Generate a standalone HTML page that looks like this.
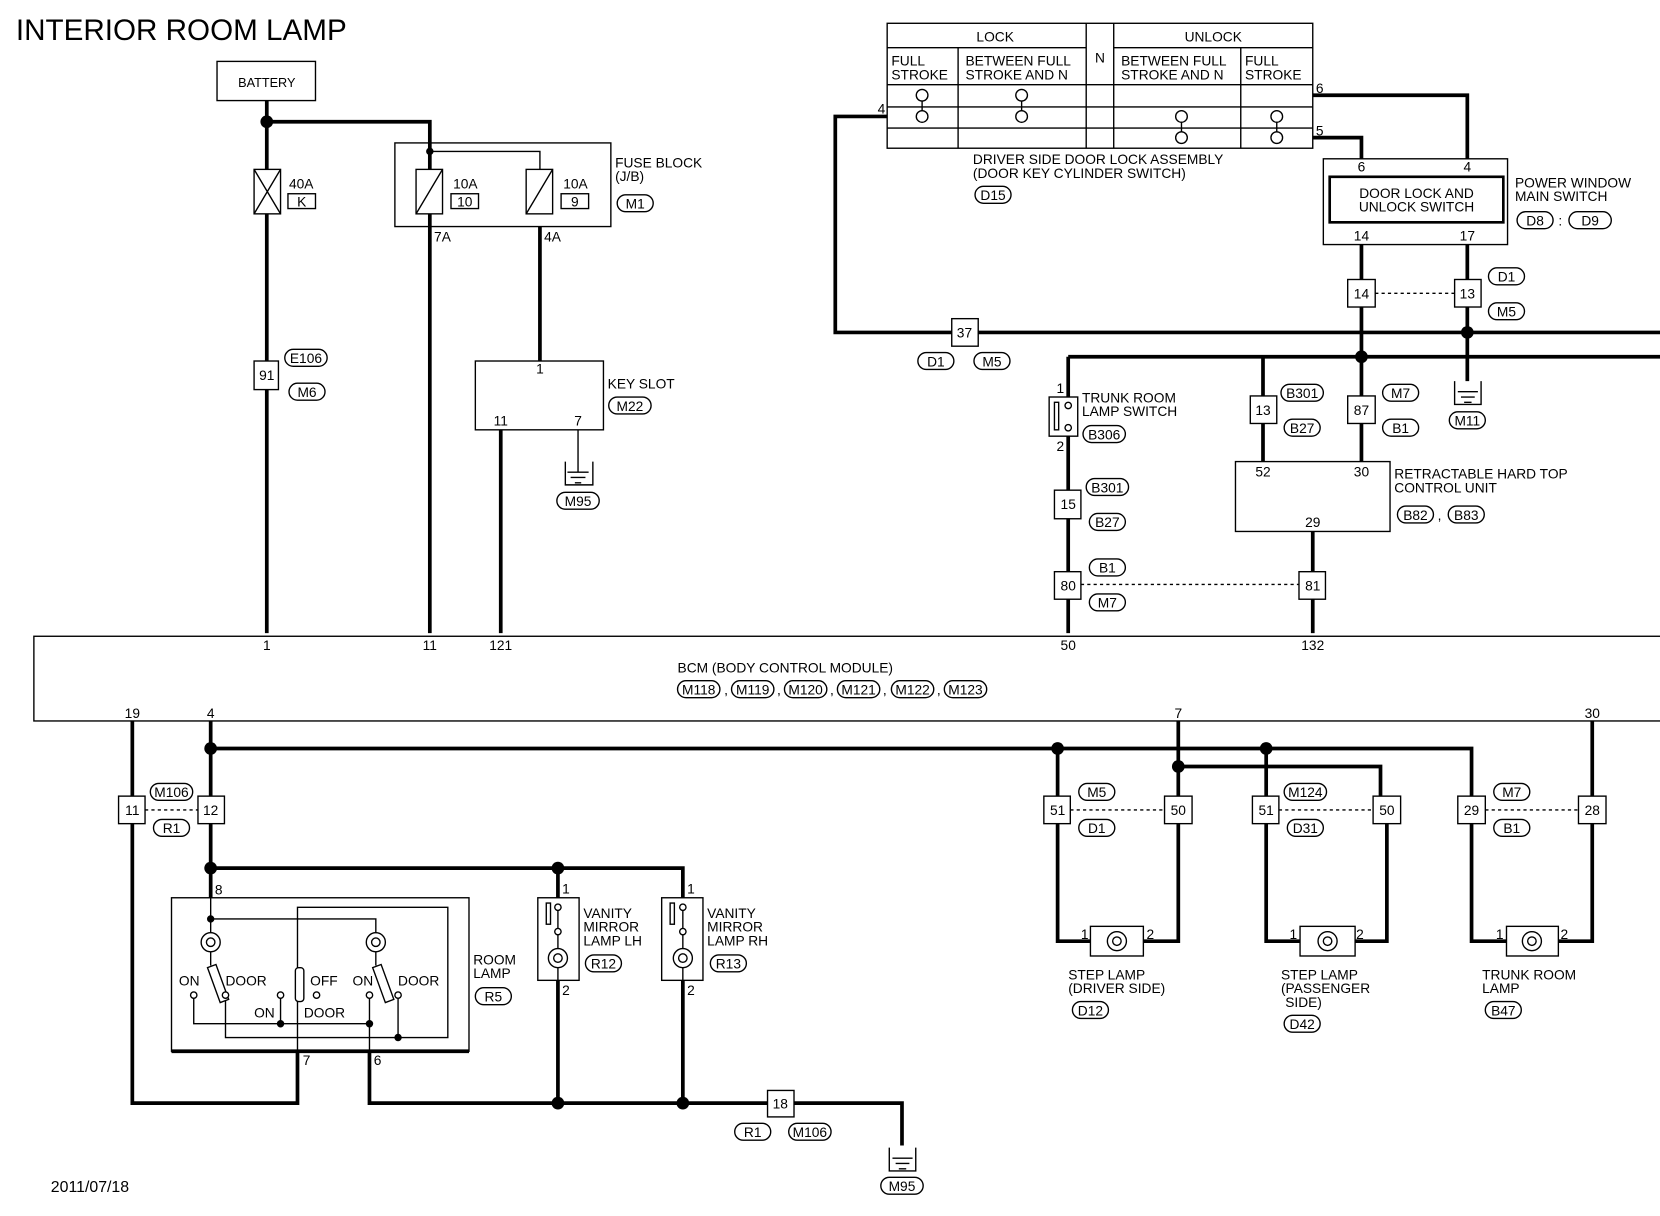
<!DOCTYPE html>
<html><head><meta charset="utf-8"><style>
html,body{margin:0;padding:0;background:#fff;}
svg{display:block;}
text{font-family:"Liberation Sans",sans-serif;font-size:13px;fill:#000;}
.t{stroke:#000;stroke-width:3.5;fill:none;}
.n{stroke:#000;stroke-width:1.3;fill:none;}
.b{stroke:#000;stroke-width:1.3;fill:#fff;}
.d{stroke:#000;stroke-width:1.3;stroke-dasharray:3,3;fill:none;}
.c{text-anchor:middle;}
</style></head><body>
<svg width="1660" height="1216" viewBox="0 0 1568 1148.6" preserveAspectRatio="none" xmlns="http://www.w3.org/2000/svg">
<text x="15" y="38" style="font-size:28px">INTERIOR ROOM LAMP</text>
<text x="48" y="1126" style="font-size:15px">2011/07/18</text>

<!-- Battery -->
<rect x="205" y="58" width="93" height="37" class="b"/>
<text x="252" y="82" class="c" style="font-size:12px">BATTERY</text>
<path class="t" d="M252 95V598M252 115H406V598M510 214V341"/>
<circle cx="252" cy="115" r="6"/>
<!-- 40A fuse -->
<rect x="240" y="160" width="25" height="42" class="b"/>
<path class="n" d="M240 160L265 202M265 160L240 202"/>
<text x="273" y="178">40A</text><rect x="272" y="183" width="26" height="14" class="n"/><text x="285" y="195" class="c">K</text>
<!-- fuse block -->
<rect x="373" y="135" width="204" height="79" class="n"/>
<path class="n" d="M406 143H510V160"/>
<circle cx="406" cy="143" r="3.5"/>
<rect x="393" y="160" width="25" height="42" class="b"/><path class="n" d="M393 202L418 160"/>
<rect x="497" y="160" width="25" height="42" class="b"/><path class="n" d="M497 202L522 160"/>
<text x="428" y="178">10A</text><rect x="426" y="183" width="26" height="14" class="n"/><text x="439" y="195" class="c">10</text>
<text x="532" y="178">10A</text><rect x="530" y="183" width="26" height="14" class="n"/><text x="543" y="195" class="c">9</text>
<text x="581" y="158">FUSE BLOCK</text><text x="581" y="171">(J/B)</text>
<rect x="583" y="184" width="34" height="16" rx="8" class="n"/><text x="600" y="197" class="c">M1</text>
<text x="410" y="228">7A</text><text x="514" y="228">4A</text>
<!-- 91 -->
<rect x="240" y="341" width="23" height="27" class="b"/><text x="252" y="359" class="c">91</text>
<rect x="269" y="330" width="40" height="16" rx="8" class="n"/><text x="289" y="343" class="c">E106</text>
<rect x="273" y="362" width="34" height="16" rx="8" class="n"/><text x="290" y="375" class="c">M6</text>
<!-- key slot -->
<rect x="449" y="341" width="121" height="65" class="n"/>
<text x="510" y="353" class="c">1</text><text x="473" y="402" class="c">11</text><text x="546" y="402" class="c">7</text>
<text x="574" y="367">KEY SLOT</text>
<rect x="575" y="375" width="40" height="16" rx="8" class="n"/><text x="595" y="388" class="c">M22</text>
<path class="t" d="M473 406V598"/>
<path class="n" d="M546 406V446M534 436V458H560V436M536 446H556M539 451H553M543 456H549"/>
<rect x="526" y="465" width="40" height="16" rx="8" class="n"/><text x="546" y="478" class="c">M95</text>

<!-- BCM -->
<rect x="32" y="601" width="1545" height="80" class="n"/>
<text x="252" y="614" class="c">1</text><text x="406" y="614" class="c">11</text><text x="473" y="614" class="c">121</text><text x="1009" y="614" class="c">50</text><text x="1240" y="614" class="c">132</text>
<text x="640" y="635">BCM (BODY CONTROL MODULE)</text>
<g>
<rect x="640" y="643" width="40" height="16" rx="8" class="n"/><text x="660" y="656" class="c">M118</text><text x="684" y="656">,</text>
<rect x="691" y="643" width="40" height="16" rx="8" class="n"/><text x="711" y="656" class="c">M119</text><text x="734" y="656">,</text>
<rect x="741" y="643" width="40" height="16" rx="8" class="n"/><text x="761" y="656" class="c">M120</text><text x="784" y="656">,</text>
<rect x="791" y="643" width="40" height="16" rx="8" class="n"/><text x="811" y="656" class="c">M121</text><text x="834" y="656">,</text>
<rect x="842" y="643" width="40" height="16" rx="8" class="n"/><text x="862" y="656" class="c">M122</text><text x="885" y="656">,</text>
<rect x="892" y="643" width="40" height="16" rx="8" class="n"/><text x="912" y="656" class="c">M123</text>
</g>
<text x="125" y="678" class="c">19</text><text x="199" y="678" class="c">4</text><text x="1113" y="678" class="c">7</text><text x="1504" y="678" class="c">30</text>

<!-- top right table -->
<rect x="838" y="22" width="402" height="118" class="n"/>
<path class="n" d="M838 45H1026M1052 45H1240M838 80H1240M838 101H1240M838 121H1240M905 45V140M1026 22V140M1052 22V140M1172 45V140"/>
<text x="940" y="39" class="c">LOCK</text><text x="1146" y="39" class="c">UNLOCK</text><text x="1039" y="59" class="c">N</text>
<text x="842" y="62">FULL</text><text x="842" y="75">STROKE</text>
<text x="912" y="62">BETWEEN FULL</text><text x="912" y="75">STROKE AND N</text>
<text x="1059" y="62">BETWEEN FULL</text><text x="1059" y="75">STROKE AND N</text>
<text x="1176" y="62">FULL</text><text x="1176" y="75">STROKE</text>
<g class="n">
<circle cx="871" cy="90" r="5.5"/><circle cx="871" cy="110" r="5.5"/><path d="M871 95V105"/>
<circle cx="965" cy="90" r="5.5"/><circle cx="965" cy="110" r="5.5"/><path d="M965 95V105"/>
<circle cx="1116" cy="110" r="5.5"/><circle cx="1116" cy="130" r="5.5"/><path d="M1116 115V125"/>
<circle cx="1206" cy="110" r="5.5"/><circle cx="1206" cy="130" r="5.5"/><path d="M1206 115V125"/>
</g>
<text x="829" y="107">4</text><text x="1243" y="88">6</text><text x="1243" y="128">5</text>
<path class="t" d="M838 110H789V314H1568M1240 90H1386V150M1240 130H1286V150"/>
<text x="919" y="155">DRIVER SIDE DOOR LOCK ASSEMBLY</text><text x="919" y="168">(DOOR KEY CYLINDER SWITCH)</text>
<rect x="921" y="176" width="34" height="16" rx="8" class="n"/><text x="938" y="189" class="c">D15</text>
<rect x="899" y="301" width="25" height="26" class="b"/><text x="911" y="319" class="c">37</text>
<rect x="867" y="333" width="34" height="16" rx="8" class="n"/><text x="884" y="346" class="c">D1</text>
<rect x="920" y="333" width="34" height="16" rx="8" class="n"/><text x="937" y="346" class="c">M5</text>
<!-- power window -->
<rect x="1250" y="150" width="174" height="81" class="n"/>
<rect x="1256" y="167" width="164" height="43" style="stroke:#000;stroke-width:2.5;fill:none"/>
<text x="1286" y="162" class="c">6</text><text x="1386" y="162" class="c">4</text>
<text x="1338" y="187" class="c">DOOR LOCK AND</text><text x="1338" y="200" class="c">UNLOCK SWITCH</text>
<text x="1286" y="227" class="c">14</text><text x="1386" y="227" class="c">17</text>
<text x="1431" y="177">POWER WINDOW</text><text x="1431" y="190">MAIN SWITCH</text>
<rect x="1433" y="200" width="34" height="16" rx="8" class="n"/><text x="1450" y="213" class="c">D8</text><text x="1472" y="213">:</text>
<rect x="1482" y="200" width="40" height="16" rx="8" class="n"/><text x="1502" y="213" class="c">D9</text>
<path class="t" d="M1286 231V436M1386 231V360M1009 337H1568M1009 337V375M1193 337V436M1009 412V598M1240 502V598"/>
<circle cx="1386" cy="314" r="6"/><circle cx="1286" cy="337" r="6"/>
<rect x="1273" y="264" width="26" height="26" class="b"/><text x="1286" y="282" class="c">14</text>
<rect x="1374" y="264" width="25" height="26" class="b"/><text x="1386" y="282" class="c">13</text>
<path class="d" d="M1299 277H1374"/>
<rect x="1406" y="253" width="34" height="16" rx="8" class="n"/><text x="1423" y="266" class="c">D1</text>
<rect x="1406" y="286" width="34" height="16" rx="8" class="n"/><text x="1423" y="299" class="c">M5</text>
<path class="n" d="M1374 360V382H1399V360M1377 370H1396M1380 375H1393M1383 380H1390"/>
<rect x="1369" y="389" width="34" height="16" rx="8" class="n"/><text x="1386" y="402" class="c">M11</text>
<!-- trunk room lamp switch -->
<rect x="991" y="375" width="27" height="37" class="b"/>
<rect x="996" y="380" width="4" height="26" class="n"/>
<circle cx="1009" cy="383" r="3" class="b"/><circle cx="1009" cy="404" r="3" class="b"/>
<text x="998" y="371">1</text><text x="998" y="426">2</text>
<text x="1022" y="380">TRUNK ROOM</text><text x="1022" y="393">LAMP SWITCH</text>
<rect x="1023" y="402" width="40" height="16" rx="8" class="n"/><text x="1043" y="415" class="c">B306</text>
<rect x="996" y="463" width="25" height="27" class="b"/><text x="1009" y="481" class="c">15</text>
<rect x="1026" y="452" width="40" height="16" rx="8" class="n"/><text x="1046" y="465" class="c">B301</text>
<rect x="1029" y="485" width="34" height="16" rx="8" class="n"/><text x="1046" y="498" class="c">B27</text>
<rect x="996" y="540" width="25" height="26" class="b"/><text x="1009" y="558" class="c">80</text>
<rect x="1227" y="540" width="25" height="26" class="b"/><text x="1240" y="558" class="c">81</text>
<path class="d" d="M1021 552H1227"/>
<rect x="1029" y="528" width="34" height="16" rx="8" class="n"/><text x="1046" y="541" class="c">B1</text>
<rect x="1029" y="561" width="34" height="16" rx="8" class="n"/><text x="1046" y="574" class="c">M7</text>
<!-- 13, 87 -->
<rect x="1181" y="374" width="25" height="26" class="b"/><text x="1193" y="392" class="c">13</text>
<rect x="1210" y="363" width="40" height="16" rx="8" class="n"/><text x="1230" y="376" class="c">B301</text>
<rect x="1213" y="396" width="34" height="16" rx="8" class="n"/><text x="1230" y="409" class="c">B27</text>
<rect x="1273" y="374" width="26" height="26" class="b"/><text x="1286" y="392" class="c">87</text>
<rect x="1306" y="363" width="34" height="16" rx="8" class="n"/><text x="1323" y="376" class="c">M7</text>
<rect x="1306" y="396" width="34" height="16" rx="8" class="n"/><text x="1323" y="409" class="c">B1</text>
<!-- RHT -->
<rect x="1167" y="436" width="146" height="66" class="n"/>
<text x="1193" y="450" class="c">52</text><text x="1286" y="450" class="c">30</text><text x="1240" y="498" class="c">29</text>
<text x="1317" y="452">RETRACTABLE HARD TOP</text><text x="1317" y="465">CONTROL UNIT</text>
<rect x="1320" y="478" width="34" height="16" rx="8" class="n"/><text x="1337" y="491" class="c">B82</text><text x="1358" y="491">,</text>
<rect x="1368" y="478" width="34" height="16" rx="8" class="n"/><text x="1385" y="491" class="c">B83</text>

<!-- bottom wiring -->
<path class="t" d="M125 681V1042H281V993M199 681V848M199 707H1390V752M1113 681V752M1113 724H1304V752M1504 681V752M199 820H645V848M349 993V1042H852V1082M527 926V1042M645 926V1042M527 820V848"/>
<circle cx="199" cy="707" r="6"/><circle cx="999" cy="707" r="6"/><circle cx="1196" cy="707" r="6"/><circle cx="1113" cy="724" r="6"/>
<circle cx="199" cy="820" r="6"/><circle cx="527" cy="820" r="6"/><circle cx="527" cy="1042" r="6"/><circle cx="645" cy="1042" r="6"/>
<rect x="112" y="752" width="25" height="26" class="b"/><text x="125" y="770" class="c">11</text>
<rect x="187" y="752" width="25" height="26" class="b"/><text x="199" y="770" class="c">12</text>
<path class="d" d="M137 765H187"/>
<rect x="142" y="740" width="40" height="16" rx="8" class="n"/><text x="162" y="753" class="c">M106</text>
<rect x="145" y="774" width="34" height="16" rx="8" class="n"/><text x="162" y="787" class="c">R1</text>
<!-- step lamps -->
<path class="t" d="M999 707V889H1030M1113 778V889H1080M1196 707V889H1228M1310 778V889H1280M1390 778V889H1423M1504 778V889H1472"/>
<rect x="986" y="752" width="25" height="26" class="b"/><text x="999" y="770" class="c">51</text>
<rect x="1100" y="752" width="26" height="26" class="b"/><text x="1113" y="770" class="c">50</text>
<path class="d" d="M1011 765H1100"/>
<rect x="1019" y="740" width="34" height="16" rx="8" class="n"/><text x="1036" y="753" class="c">M5</text>
<rect x="1019" y="774" width="34" height="16" rx="8" class="n"/><text x="1036" y="787" class="c">D1</text>
<rect x="1183" y="752" width="25" height="26" class="b"/><text x="1196" y="770" class="c">51</text>
<rect x="1297" y="752" width="26" height="26" class="b"/><text x="1310" y="770" class="c">50</text>
<path class="d" d="M1208 765H1297"/>
<rect x="1213" y="740" width="40" height="16" rx="8" class="n"/><text x="1233" y="753" class="c">M124</text>
<rect x="1216" y="774" width="34" height="16" rx="8" class="n"/><text x="1233" y="787" class="c">D31</text>
<rect x="1377" y="752" width="26" height="26" class="b"/><text x="1390" y="770" class="c">29</text>
<rect x="1491" y="752" width="26" height="26" class="b"/><text x="1504" y="770" class="c">28</text>
<path class="d" d="M1403 765H1491"/>
<rect x="1411" y="740" width="34" height="16" rx="8" class="n"/><text x="1428" y="753" class="c">M7</text>
<rect x="1411" y="774" width="34" height="16" rx="8" class="n"/><text x="1428" y="787" class="c">B1</text>
<g>
<rect x="1030" y="875" width="50" height="28" class="b"/><circle cx="1055" cy="889" r="9" class="n"/><circle cx="1055" cy="889" r="4" class="n"/>
<rect x="1228" y="875" width="52" height="28" class="b"/><circle cx="1254" cy="889" r="9" class="n"/><circle cx="1254" cy="889" r="4" class="n"/>
<rect x="1423" y="875" width="49" height="28" class="b"/><circle cx="1447" cy="889" r="9" class="n"/><circle cx="1447" cy="889" r="4" class="n"/>
</g>
<text x="1021" y="887">1</text><text x="1083" y="887">2</text>
<text x="1218" y="887">1</text><text x="1281" y="887">2</text>
<text x="1413" y="887">1</text><text x="1474" y="887">2</text>
<text x="1009" y="925">STEP LAMP</text><text x="1009" y="938">(DRIVER SIDE)</text>
<rect x="1013" y="946" width="34" height="16" rx="8" class="n"/><text x="1030" y="959" class="c">D12</text>
<text x="1210" y="925">STEP LAMP</text><text x="1210" y="938">(PASSENGER</text><text x="1214" y="951">SIDE)</text>
<rect x="1213" y="959" width="34" height="16" rx="8" class="n"/><text x="1230" y="972" class="c">D42</text>
<text x="1400" y="925">TRUNK ROOM</text><text x="1400" y="938">LAMP</text>
<rect x="1403" y="946" width="34" height="16" rx="8" class="n"/><text x="1420" y="959" class="c">B47</text>

<!-- room lamp -->
<rect x="162" y="848" width="281" height="145" class="n"/>
<path d="M162 993H443" stroke="#000" stroke-width="3.5"/>
<text x="203" y="845">8</text>
<path class="n" d="M199 848V881M199 868H355V881M199 899V912M355 899V912M281 993V857H423V980H213V940M376 940V980M183 940V967H349V940M265 940V967M349 967V993"/>
<circle cx="199" cy="868" r="3.5"/><circle cx="265" cy="967" r="3.5"/><circle cx="349" cy="967" r="3.5"/><circle cx="376" cy="980" r="3.5"/>
<circle cx="199" cy="890" r="9" class="b"/><circle cx="199" cy="890" r="4" class="n"/>
<circle cx="355" cy="890" r="9" class="b"/><circle cx="355" cy="890" r="4" class="n"/>
<path class="b" d="M196 914L204 911L216 944L208 947Z"/>
<path class="b" d="M352 914L360 911L372 944L364 947Z"/>
<rect x="279" y="914" width="8" height="32" rx="3" class="b"/>
<g class="b"><circle cx="183" cy="940" r="3"/><circle cx="213" cy="940" r="3"/><circle cx="265" cy="940" r="3"/><circle cx="299" cy="940" r="3"/><circle cx="349" cy="940" r="3"/><circle cx="376" cy="940" r="3"/></g>
<text x="169" y="931">ON</text><text x="213" y="931">DOOR</text><text x="293" y="931">OFF</text><text x="333" y="931">ON</text><text x="376" y="931">DOOR</text>
<text x="240" y="961">ON</text><text x="287" y="961">DOOR</text>
<text x="447" y="911">ROOM</text><text x="447" y="924">LAMP</text>
<rect x="449" y="933" width="34" height="16" rx="8" class="n"/><text x="466" y="946" class="c">R5</text>
<text x="286" y="1006">7</text><text x="353" y="1006">6</text>
<!-- vanity -->
<rect x="508" y="848" width="39" height="78" class="b"/>
<rect x="516" y="853" width="4" height="20" class="n"/>
<circle cx="527" cy="857" r="3" class="b"/><circle cx="527" cy="880" r="3" class="b"/>
<circle cx="527" cy="905" r="9" class="b"/><circle cx="527" cy="905" r="4" class="n"/>
<path class="n" d="M527 860V877M527 883V896M527 914V926"/>
<text x="531" y="844">1</text><text x="531" y="940">2</text>
<text x="551" y="867">VANITY</text><text x="551" y="880">MIRROR</text><text x="551" y="893">LAMP LH</text>
<rect x="553" y="902" width="34" height="16" rx="8" class="n"/><text x="570" y="915" class="c">R12</text>
<rect x="625" y="848" width="39" height="78" class="b"/>
<rect x="633" y="853" width="4" height="20" class="n"/>
<circle cx="645" cy="857" r="3" class="b"/><circle cx="645" cy="880" r="3" class="b"/>
<circle cx="645" cy="905" r="9" class="b"/><circle cx="645" cy="905" r="4" class="n"/>
<path class="n" d="M645 860V877M645 883V896M645 914V926"/>
<text x="649" y="844">1</text><text x="649" y="940">2</text>
<text x="668" y="867">VANITY</text><text x="668" y="880">MIRROR</text><text x="668" y="893">LAMP RH</text>
<rect x="671" y="902" width="34" height="16" rx="8" class="n"/><text x="688" y="915" class="c">R13</text>
<!-- 18 and ground -->
<rect x="725" y="1030" width="25" height="25" class="b"/><text x="737" y="1047" class="c">18</text>
<rect x="694" y="1061" width="34" height="16" rx="8" class="n"/><text x="711" y="1074" class="c">R1</text>
<rect x="745" y="1061" width="40" height="16" rx="8" class="n"/><text x="765" y="1074" class="c">M106</text>
<path class="n" d="M840 1084V1106H865V1084M843 1094H862M846 1099H859M849 1104H856"/>
<rect x="832" y="1112" width="40" height="16" rx="8" class="n"/><text x="852" y="1125" class="c">M95</text>
</svg>
</body></html>
